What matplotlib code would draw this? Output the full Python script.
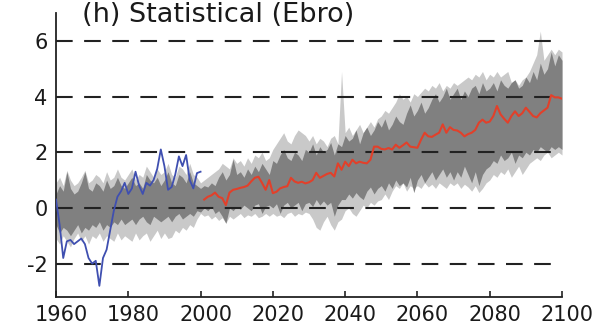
import matplotlib.pyplot as plt
import numpy as np
from matplotlib.transforms import ScaledTranslation

plt.rcParams['axes.unicode_minus'] = False

### Data
years_all = np.arange(1960, 2101)
years_obs = np.arange(1960, 2001)
years_proj = np.arange(2001, 2101)

# observed series 1960-2000
obs = [0.3, -0.6, -1.8, -1.2, -1.15, -1.3, -1.2, -1.1, -1.3, -1.8,
       -2.0, -1.9, -2.8, -1.8, -1.5, -0.8, -0.1, 0.4, 0.6, 0.9,
       0.5, 0.7, 1.3, 0.8, 0.5, 0.9, 0.8, 1.0, 1.4, 2.1,
       1.5, 0.65, 0.75, 1.2, 1.85, 1.5, 1.9, 1.0, 0.7, 1.25,
       1.3]

# statistical projection 2001-2100
proj = [0.30, 0.40, 0.45, 0.55, 0.40, 0.35, 0.10, 0.55, 0.65, 0.68,
        0.72, 0.75, 0.80, 0.95, 1.08, 1.12, 0.90, 0.65, 1.00, 0.53,
        0.58, 0.70, 0.75, 0.78, 1.08, 0.95, 0.90, 0.94, 0.88, 0.92,
        1.00, 1.26, 1.08, 1.15, 1.22, 1.26, 1.13, 1.60, 1.37, 1.66,
        1.50, 1.73, 1.60, 1.66, 1.62, 1.60, 1.73, 2.20, 2.20, 2.12,
        2.10, 2.15, 2.10, 2.27, 2.16, 2.25, 2.35, 2.20, 2.18, 2.16,
        2.45, 2.70, 2.57, 2.55, 2.63, 2.70, 3.00, 2.70, 2.90, 2.80,
        2.78, 2.70, 2.57, 2.65, 2.70, 2.80, 3.06, 3.17, 3.06, 3.10,
        3.30, 3.66, 3.36, 3.20, 3.06, 3.30, 3.47, 3.30, 3.40, 3.60,
        3.45, 3.30, 3.25, 3.40, 3.50, 3.60, 4.05, 3.97, 3.97, 3.92]

# inner envelope (dark grey), 1960-2100
dark_hi = [0.5, 0.8, 0.6, 1.3, 0.7, 0.5, 0.6, 0.9, 1.3, 0.7,
           0.6, 0.9, 0.8, 0.6, 1.0, 0.7, 0.8, 1.1, 0.8, 0.7,
           0.9, 1.1, 0.8, 0.9, 0.7, 1.2, 1.0, 0.9, 1.1, 0.8,
           1.0, 1.3, 0.9, 0.8, 1.2, 1.1, 0.9, 1.3, 0.9, 0.8,
           0.7, 0.8, 0.75, 0.9, 0.8, 1.1, 1.3, 1.0, 1.2, 1.75,
           1.2, 1.3, 1.1, 1.4, 1.2, 1.5, 1.3, 1.6, 1.4, 1.2,
           1.7, 1.6, 1.9, 2.1, 1.8, 1.7, 2.0, 1.9, 1.7, 2.1,
           2.0, 2.3, 1.9, 2.2, 2.0, 2.1, 2.35, 1.9, 2.3, 2.2,
           2.6, 2.4, 2.5, 2.8, 2.3, 2.7, 2.9, 2.6, 2.8, 3.1,
           2.9, 3.2, 2.8, 3.0, 3.3, 3.1, 3.0, 3.4, 3.7, 3.3,
           3.5, 3.8, 3.4, 3.6, 3.9, 4.1, 3.8, 4.0, 4.3, 3.9,
           4.1, 4.3, 3.9, 4.2, 4.0, 4.3, 4.4, 4.1, 4.5, 4.2,
           4.3, 4.5, 4.2, 4.6, 4.4, 4.3, 4.5, 4.6, 4.3, 4.4,
           4.7, 4.5, 4.9, 4.6, 5.2, 4.8, 5.0, 5.6, 5.1, 5.5,
           5.3]
dark_lo = [-0.6, -0.9, -0.7, -0.8, -1.0, -0.8, -0.6, -0.9, -0.7, -0.8,
           -0.6, -0.7, -0.5, -0.8, -0.6, -0.7, -0.5, -0.6, -0.4, -0.6,
           -0.5, -0.4, -0.6, -0.4, -0.3, -0.5, -0.6, -0.3, -0.4, -0.5,
           -0.4, -0.3, -0.5, -0.3, -0.2, -0.4, -0.3, -0.2, -0.3, -0.1,
           -0.15, 0.0, -0.1, 0.05, -0.2, -0.1, -0.3, -0.55, 0.0, -0.1,
           0.05, -0.05, 0.1, 0.0, -0.1, 0.1, 0.15, -0.2, 0.05, 0.1,
           0.0, 0.15, -0.2, 0.1, 0.2, 0.0, 0.1, 0.2, -0.1, 0.15,
           0.2, 0.05, 0.3, 0.1, 0.25, 0.1, 0.2, -0.3, 0.1, 0.3,
           0.3, 0.5, 0.35, 0.55, 0.4, 0.3, 0.6, 0.75, 0.5, 0.7,
           0.8, 0.6, 0.9, 0.7, 1.0, 0.8, 0.9, 0.75, 1.1, 0.55,
           1.0, 1.2, 0.9, 1.1, 1.3, 1.0, 1.2, 1.4, 1.1, 1.3,
           1.0, 1.3, 1.1, 1.5, 1.2, 0.9, 1.3, 0.8, 1.2, 1.4,
           1.5, 1.7, 1.6, 1.9, 1.7, 1.8, 2.0, 1.6, 1.9, 1.8,
           2.0, 1.9, 2.1, 2.0, 2.2, 2.1, 2.0, 2.2, 2.1, 2.2,
           2.1]

# outer envelope (light grey), 1960-2100
light_hi = [0.9, 1.1, 0.8, 1.35, 1.0, 0.8, 0.9, 1.1, 1.35, 0.9,
            1.0, 1.2, 1.1, 0.9, 1.3, 1.0, 1.1, 1.4, 1.1, 1.0,
            1.2, 1.4, 1.0, 1.2, 1.1, 1.5, 1.3, 1.1, 1.4, 1.2,
            1.3, 1.6, 1.2, 1.1, 1.5, 1.4, 1.2, 1.6, 1.2, 1.1,
            0.9, 1.0, 1.1, 1.2, 1.3, 1.4, 1.6, 1.5, 1.4, 1.8,
            1.6, 1.7, 1.5, 1.8, 1.6, 1.9, 1.8, 2.0, 1.7, 1.8,
            2.1, 2.3, 2.5, 2.7, 2.4, 2.3, 2.6, 2.8, 2.7, 2.6,
            2.4, 2.6, 2.3, 2.5, 2.4, 2.2, 2.5, 2.6, 2.3, 4.9,
            2.7, 2.9, 2.6, 2.8, 3.0, 2.7, 2.9, 3.1, 2.9, 3.2,
            3.3, 3.5, 3.4, 3.6, 3.8, 4.1, 3.9, 4.0, 3.8, 4.1,
            4.0, 4.15, 4.3, 4.2, 4.4, 4.3, 4.5, 4.2, 4.4, 4.3,
            4.5, 4.4, 4.5, 4.6, 4.7, 4.6, 4.8, 4.7, 4.9, 4.6,
            4.8, 4.7, 4.9, 4.7, 4.8, 4.9, 4.5, 4.6, 4.4, 4.6,
            4.7, 4.9, 5.2, 5.5, 6.35, 5.3, 5.5, 5.7, 5.5, 5.7,
            5.6]
light_lo = [-1.1, -1.3, -1.0, -1.2, -1.4, -1.1, -0.9, -1.2, -1.0, -1.3,
            -1.0, -1.1, -0.9, -1.2, -1.0, -1.1, -1.2, -0.9, -1.15, -1.0,
            -1.1, -1.2, -0.9, -1.15, -1.0, -0.9, -1.2, -1.0, -0.8, -1.1,
            -0.9, -1.1, -1.05, -0.8, -0.9, -0.7, -0.8, -0.6, -0.7, -0.4,
            -0.2, -0.3, -0.25, -0.4, -0.3, -0.45, -0.35, -0.55, -0.3, -0.4,
            -0.3, -0.2, -0.35, -0.25, -0.3, -0.2, -0.35, -0.3, -0.2, -0.3,
            -0.2, -0.3, -0.25, -0.35, -0.2, -0.15, -0.3, -0.2, -0.25, -0.15,
            -0.2, -0.4, -0.7, -0.8, -0.5, -0.3, -0.6, -0.8, -0.5, -0.4,
            -0.1, 0.0, -0.2, -0.3, -0.1, 0.1, 0.0, 0.2, 0.1, 0.25,
            0.3, 0.5, 0.3, 0.6, 0.8, 0.7, 0.9, 0.6, 0.8, 0.7,
            0.8, 0.7, 0.9, 0.75, 0.85, 0.7, 0.9, 0.8, 0.7, 0.9,
            0.8, 0.9, 0.7, 0.85, 0.75, 0.6, 0.8, 0.55, 0.7, 0.9,
            1.0, 1.2, 1.1, 1.3, 1.2, 1.4, 1.1, 1.3, 1.5, 1.2,
            1.4, 1.6, 1.7, 1.8, 1.7, 1.9, 2.0, 1.8, 1.9, 2.0,
            1.9]

yticks = [-2, 0, 2, 4, 6]
xticks = [1960, 1980, 2000, 2020, 2040, 2060, 2080, 2100]

### Plot
fig = plt.figure(figsize=(5.93, 3.31), dpi=100)
ax = fig.add_axes([56/593, 34/331, 506/593, 284/331])

ax.fill_between(years_all, light_lo, light_hi, color='#c9c9c9', lw=0, zorder=1)
ax.fill_between(years_all, dark_lo, dark_hi, color='#808080', lw=0, zorder=2)

for yv in yticks:
    ax.plot([1960, 2100], [yv, yv], color='#222222', lw=1.5,
            dashes=(8, 5.5), zorder=3)

ax.plot(years_obs, obs, color='#3f4fb0', lw=1.3, zorder=4)
ax.plot(years_proj, proj, color='#e2402a', lw=1.5, zorder=4)

ax.set_xlim(1960, 2100)
ax.set_ylim(-3.2, 7.0)
ax.set_xticks(xticks)
ax.set_yticks(yticks)

for side in ['top', 'right']:
    ax.spines[side].set_visible(False)
for side in ['left', 'bottom']:
    ax.spines[side].set_linewidth(1.3)
    ax.spines[side].set_color('#222222')

ax.tick_params(direction='in', length=4, width=1.2, colors='#222222',
               labelsize=15, labelcolor='#1a1a1a')
ax.tick_params(axis='y', pad=6)
ax.tick_params(axis='x', pad=6)

# shift year labels slightly to the right
shift = ScaledTranslation(5/100, 0, fig.dpi_scale_trans)
for lab in ax.get_xticklabels():
    lab.set_transform(lab.get_transform() + shift)

fig.text(82/593, 1 - 22/331, '(h) Statistical (Ebro)', fontsize=19.5,
         color='#1a1a1a', ha='left', va='baseline')

fig.savefig('out.png', dpi=100)
